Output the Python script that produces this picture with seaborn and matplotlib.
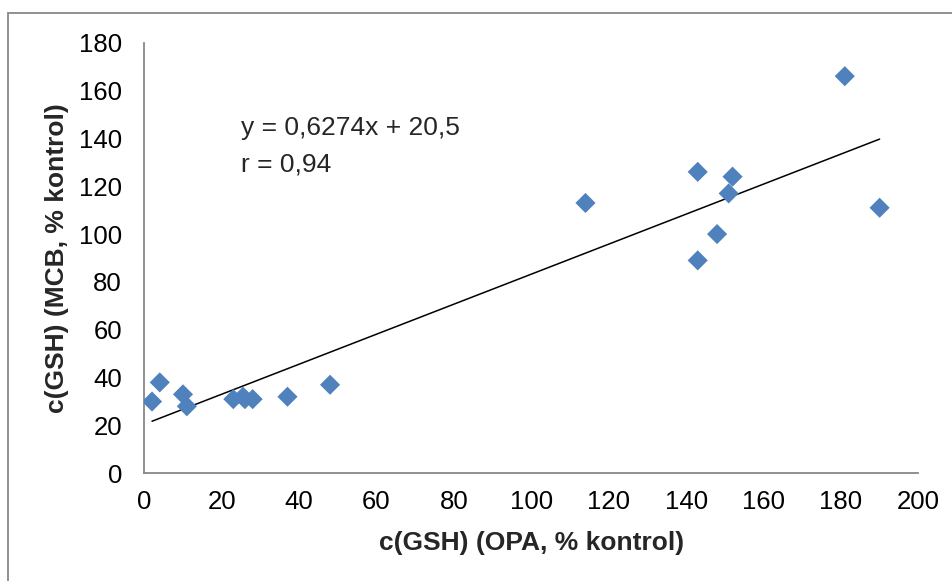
import numpy as np
import pandas as pd
import seaborn as sns
import matplotlib.pyplot as plt
from matplotlib.patches import Rectangle

# values
opa = [2, 4, 10, 11, 23, 25.5, 28, 37, 48,
       114, 143, 143, 148, 151, 152, 181, 190]
mcb = [30, 38, 33, 28, 31, 32, 31, 32, 37,
       113, 126, 89, 100, 117, 124, 166, 111]
# the point hidden behind the cluster near x=25
opa_extra = [26]
mcb_extra = [31]

slope = 0.6274
intercept = 20.5
r_value = 0.94

x_ticks = list(range(0, 201, 20))
y_ticks = list(range(0, 181, 20))

df = pd.DataFrame({"opa": opa + opa_extra, "mcb": mcb + mcb_extra})

sns.set_style("white")
plt.rcParams["font.family"] = ["Liberation Sans", "DejaVu Sans"]

fig = plt.figure(figsize=(9.53, 5.81), dpi=100)
ax = fig.add_axes([0.1514, 0.1854, 0.8122, 0.7411])

sns.scatterplot(data=df, x="opa", y="mcb", marker="D", s=105,
                color="#4F81BD", edgecolor="none", ax=ax, zorder=3)

# trendline over the data range
xs = np.array([df["opa"].min(), df["opa"].max()])
ax.plot(xs, slope * xs + intercept, color="black", lw=1.1, zorder=2)

ax.set_xlim(0, 200)
ax.set_ylim(0, 180)
ax.set_xticks(x_ticks)
ax.set_yticks(y_ticks)
ax.tick_params(axis="both", labelsize=18.5, colors="black", length=5,
               width=1, direction="out", color="#888888")
ax.tick_params(axis="x", pad=7)
ax.tick_params(axis="y", pad=11)

for side in ["top", "right"]:
    ax.spines[side].set_visible(False)
for side in ["left", "bottom"]:
    ax.spines[side].set_color("#888888")
    ax.spines[side].set_linewidth(1.3)

ax.set_xlabel("c(GSH) (OPA, % kontrol)", fontsize=19, fontweight="bold",
              labelpad=12)
ax.set_ylabel("c(GSH) (MCB, % kontrol)", fontsize=19, fontweight="bold",
              labelpad=7)

eq = "y = " + f"{slope:.4f}".replace(".", ",") + "x + " + f"{intercept}".replace(".", ",")
ax.text(25, 144.5, eq, fontsize=19, va="center", ha="left")
ax.text(25, 129, "r = " + f"{r_value}".replace(".", ","), fontsize=19,
        va="center", ha="left")

# chart area border (runs off the right and bottom edges)
fig.patches.append(Rectangle((8 / 953, -0.05), 1.0, 1 - 13 / 581 + 0.05,
                             transform=fig.transFigure, fill=False,
                             edgecolor="#888888", lw=1.3))

fig.savefig("out.png", dpi=100)
